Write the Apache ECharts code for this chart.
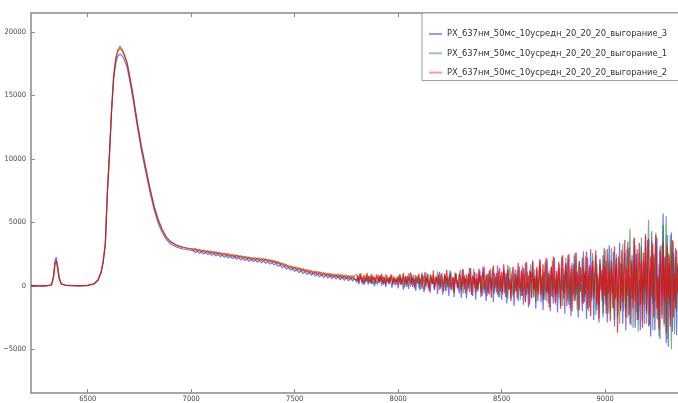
<!DOCTYPE html>
<html><head><meta charset="utf-8">
<script src="https://cdn.jsdelivr.net/npm/echarts@6/dist/echarts.min.js"></script>
<style>html,body{margin:0;padding:0;background:#fff}#c{width:678px;height:403px}</style>
</head><body><div id="c"></div>
<script>
// ---- data ----
const seriesNames = [
  'PX_637нм_50мс_10усредн_20_20_20_выгорание_3',
  'PX_637нм_50мс_10усредн_20_20_20_выгорание_1',
  'PX_637нм_50мс_10усредн_20_20_20_выгорание_2'
];
const xTicks = [6500, 7000, 7500, 8000, 8500, 9000];
const yTicks = [-5000, 0, 5000, 10000, 15000, 20000];

// sampling positions: irregular through the peaks, then 10-unit and 5-unit grids
const xA = [6226,6250,6280,6310,6325,6335,6342,6348,6354,6362,6372,6390,6420,6460,6500,6530,6550,6565,6575,6585,6595,6605,6615,6625,6635,6645,6655,6665,6675,6690,6705,6720,6740,6760,6780,6800,6820,6840,6860,6880,6900,6930,6960,7000];
const gridB = {from: 7010, to: 7790, step: 10};
const gridC = {from: 7800, to: 9350, step: 5};

// series _3 (blue)
const blueA = [10,0,-30,20,70,800,2050,2250,1700,700,170,40,10,0,20,140,440,1050,1900,3250,7300,10250,13600,16200,17500,18100,18250,18150,17900,17250,16000,14600,12500,10600,9000,7450,6050,4950,4200,3650,3300,3050,2900,2780];
const blueB = [2760,2610,2730,2550,2680,2500,2620,2450,2570,2410,
2520,2350,2480,2290,2420,2240,2370,2180,2310,2140,
2270,2080,2220,2030,2160,1980,2110,1930,2060,1900,
2040,1850,2000,1800,1970,1770,1910,1700,1830,1650,
1750,1530,1640,1420,1530,1320,1430,1230,1340,1140,
1270,1040,1190,960,1120,890,1050,830,990,770,
950,700,900,650,850,600,810,560,770,520,
740,460,700,420,660,390,630,360,600];
const blueC = [250,600,120,500,700,180,430,60,560,300,650,90,480,250,720,150,380,-50,520,280,
100,580,320,800,0,450,200,620,-100,400,560,120,700,260,-150,480,650,30,350,520,
-200,420,680,100,500,-300,300,800,60,450,-250,620,200,900,-100,350,550,-400,480,150,
700,-350,300,950,80,-500,520,250,1000,-200,400,-550,680,150,850,-300,200,580,-650,400,
1100,-100,500,-700,300,900,-400,650,100,-800,1200,250,-300,700,-900,450,1000,-150,300,-600,
800,-950,400,1300,-250,600,-1000,200,900,-500,1400,0,-800,700,300,-1100,1000,-300,500,1200,
-900,400,1500,-600,200,-1200,900,350,-700,1300,-200,600,-1300,1000,150,-500,1600,-900,300,800,
-1100,500,1200,-600,1000,-1400,1630,-300,600,-1000,900,200,-1600,1300,-400,700,-1200,1500,100,-800,
1000,-1500,600,1800,-700,300,-1700,1200,400,-1000,1900,-300,800,-1800,1300,-500,500,2000,-1300,700,
-1900,1100,200,-1200,2100,-600,900,-2000,1500,300,-1400,2200,-800,600,-2100,1400,200,-1600,2300,-400,
900,-2200,1600,-300,2400,-1500,500,-2400,1800,200,-1200,2600,-700,1100,-2500,2000,-400,800,-2000,2700,
-1300,1200,-2600,2200,400,-1700,2900,-900,1500,-2700,800,2400,-1900,600,-2900,2100,-300,1300,-2200,3000,
-1500,2000,-2900,800,3200,-2000,1400,-600,2700,-3200,1000,2200,-2500,400,3400,-1800,1700,-3000,900,2600,
-3500,1500,3500,-2300,700,-3100,2400,-1000,3700,-3300,1200,2900,-2700,500,-3500,3100,-1400,2000,-3000,4100,
-2200,3600,-3200,1300,-4000,4300,-1500,2500,-3500,800,3800,-2700,1700,-4200,3200,-800,5700,-3000,2300,-4500,
4000,-4800,1800,-2600,4200,-3600,2600,-1200,3000,-3900,1500];

// series _1 (green)
const greenA = [20,-10,30,10,60,650,1650,1900,1400,550,140,50,30,-20,40,160,470,1100,1950,3300,7400,10400,13800,16500,17900,18600,18900,18700,18350,17650,16350,14950,12850,10950,9350,7750,6350,5250,4450,3850,3500,3200,3050,2920];
const greenB = [2950,2770,2890,2720,2830,2660,2790,2600,2740,2560,
2710,2500,2660,2450,2590,2400,2550,2340,2480,2290,
2450,2230,2400,2190,2330,2140,2290,2090,2240,2050,
2230,2010,2190,1960,2170,1950,2100,1880,2040,1820,
1960,1730,1830,1600,1740,1500,1620,1380,1530,1300,
1480,1230,1390,1140,1310,1080,1250,980,1180,940,
1160,880,1090,830,1040,770,1000,720,950,690,
960,620,920,570,880,540,850,500,800];
const greenC = [900,380,720,450,1000,300,650,520,180,840,410,760,250,600,950,330,700,470,120,680,
520,880,210,610,400,790,60,560,930,300,480,150,700,380,860,90,540,640,220,760,
350,950,40,600,280,820,-150,500,720,180,1000,330,-80,640,420,880,10,550,230,770,
-200,610,360,1050,120,480,-300,700,260,900,-60,520,820,150,400,-350,750,300,1150,40,
560,-250,850,330,60,980,-400,480,700,190,-150,1100,350,620,-500,420,900,80,-280,760,
1250,-100,400,-600,850,230,520,-350,1000,120,680,-700,300,1350,-200,560,40,-480,900,330,
-550,750,1100,-300,420,60,-800,980,250,620,-400,1400,150,-650,700,380,-150,1150,-900,500,
240,-700,1300,420,-350,880,-1000,560,1500,-200,100,-850,1000,300,-500,1250,-150,680,-1100,420,
1600,-400,850,-1200,300,1100,-600,200,1700,-950,550,-300,1300,-1300,700,100,-700,1500,-400,900,
-1100,600,1900,-500,300,-1400,1200,250,-800,2000,-300,700,-1500,1000,400,-1000,1700,-200,500,-1600,
1300,-600,2200,100,-1200,900,-1800,1600,300,-700,2400,-1000,600,-1900,1100,1900,-500,200,-1400,1500,
-900,2300,-200,800,-2000,1400,400,-1200,2600,-600,1000,-2300,1700,200,-1500,2100,-400,1200,-2500,900,
2800,-1000,500,-2200,1900,-500,3000,-1700,700,-2700,1500,2500,-1300,300,-3000,1800,-800,3300,-2000,600,
-1800,2900,-2500,1200,4500,-1000,2000,-3300,800,3200,-2100,1500,-3600,2600,-600,3800,-2800,1000,-1500,3000,
-3000,1800,5200,-2200,400,3500,-3500,2300,-1200,4200,-2600,900,-4000,3100,600,-2300,4800,-3200,1400,5500,
-4200,2600,-1500,4000,-5000,1200,3500,-3800,2200,-2000,1800];

// series _2 (red)
const redA = [0,20,-20,30,50,700,1800,2030,1500,600,150,60,20,10,30,150,460,1080,1930,3280,7350,10350,13750,16450,17800,18450,18700,18550,18250,17550,16300,14900,12800,10900,9300,7700,6300,5200,4400,3820,3460,3180,3020,2900];
const redB = [2780,2940,2740,2870,2680,2820,2620,2760,2580,2710,
2530,2680,2480,2620,2420,2570,2370,2520,2320,2460,
2270,2430,2220,2380,2160,2320,2120,2270,2070,2220,
2030,2200,2000,2160,1960,2130,1910,2060,1840,1990,
1760,1900,1660,1790,1540,1680,1430,1570,1340,1490,
1260,1430,1170,1350,1090,1270,1020,1200,960,1140,
900,1100,840,1040,790,980,740,940,700,900,
640,880,600,840,560,800,530,780,500];
const redC = [450,820,300,960,560,720,200,880,400,650,1000,330,780,500,150,850,420,700,280,900,
640,250,800,410,950,180,700,530,100,820,360,660,220,900,480,140,750,330,600,60,
700,260,880,120,540,1000,200,620,-100,760,380,500,1050,90,680,300,-200,840,420,620,
950,150,500,-250,800,380,1100,-50,620,280,-400,900,450,160,1200,-150,520,700,100,880,
-300,640,1000,180,-450,800,400,1250,-100,560,900,-350,300,650,-550,1050,200,460,-200,950,
550,-400,1300,100,700,-600,900,300,-200,1400,450,-700,800,150,1100,-500,600,-250,1350,200,
800,-800,400,1500,-300,900,100,-600,1200,450,-950,700,1600,-200,300,1000,-700,550,1400,-450,
1100,-500,1700,300,-900,800,1300,-300,400,-1200,1000,1500,-600,200,900,-1000,1800,100,-400,1200,
-800,1400,500,-1300,1900,-200,800,-1500,1100,300,2000,-900,600,-400,1500,-1200,900,2100,-700,300,
1700,-1100,700,2200,-500,1000,-1700,400,1500,-900,2300,100,-1300,1200,-600,1900,600,-1800,1000,2400,
-1000,500,1800,-1600,900,2500,-600,1300,-2000,600,1700,-1200,2600,-300,900,-1900,1500,300,2200,-1400,
1000,-700,2700,-1800,500,1600,-2400,1200,2000,-1000,400,2800,-1500,900,-2600,1700,600,-1200,2400,-800,
1500,-2200,2900,-600,1200,-2800,2000,300,-1800,3100,-1000,1600,-3700,2300,700,-2000,2800,-1300,800,3600,
-2500,1400,-800,3000,-3000,2000,500,-1800,3800,-1200,2500,-2700,900,3400,-1500,1800,-3300,2600,-300,3900,
-2000,1200,3700,-3100,2300,-900,3300,-2500,1600,4000,-1800,700,-3400,2800,1100,-2600,3500,-1300,2200,-3700,
3200,-1000,2400,-3200,1500,3600,-2500,1000,-1800,2800,-600];

// ---- build ----
function gridPositions(g) { const out = []; for (let x = g.from; x <= g.to; x += g.step) out.push(x); return out; }
const xs = xA.concat(gridPositions(gridB), gridPositions(gridC));
const ysets = [blueA.concat(blueB, blueC), greenA.concat(greenB, greenC), redA.concat(redB, redC)];
const lineColors = ['rgba(0,0,255,0.55)', 'rgba(0,128,0,0.55)', 'rgba(255,0,0,0.75)'];
const legendColors = ['rgba(0,0,255,0.4)', 'rgba(0,128,0,0.4)', 'rgba(255,0,0,0.4)'];

const axisGrey = '#8a8a8a';
const labelColor = '#444';
const tickFont = "'DejaVu Sans Condensed', sans-serif";

const chart = echarts.init(document.getElementById('c'), null, {renderer: 'canvas'});
chart.setOption({
  animation: false,
  backgroundColor: '#fff',
  grid: {left: 31, right: 0, top: 13, bottom: 10, containLabel: false},
  legend: {
    orient: 'vertical', left: 422, top: 13,
    padding: [15, 300, 2, 7],
    borderColor: '#999', borderWidth: 1, backgroundColor: '#fff',
    icon: 'rect', itemWidth: 13, itemHeight: 2, itemGap: 7.3, itemTextGap: 14,
    textStyle: {fontSize: 9.3, lineHeight: 12, color: '#333', fontFamily: "'DejaVu Sans Condensed', sans-serif"},
    data: seriesNames.map((n, i) => ({name: n, itemStyle: {color: legendColors[i]}}))
  },
  xAxis: [{
    type: 'value', min: 6226, max: 9352, position: 'bottom',
    axisLine: {show: true, onZero: false, lineStyle: {color: axisGrey, width: 1.5}},
    axisTick: {show: true, inside: true, length: 4, lineStyle: {color: axisGrey}, customValues: xTicks},
    axisLabel: {show: true, margin: 2, fontSize: 7.5, color: labelColor, fontFamily: tickFont, customValues: xTicks,
      formatter: v => String(v)},
    splitLine: {show: false}
  }, {
    type: 'value', min: 6226, max: 9352, position: 'top',
    axisLine: {show: true, onZero: false, lineStyle: {color: axisGrey, width: 1.5}},
    axisTick: {show: true, inside: true, length: 4, lineStyle: {color: axisGrey}, customValues: xTicks},
    axisLabel: {show: false},
    splitLine: {show: false}
  }],
  yAxis: {
    type: 'value', min: -8450, max: 21500,
    axisLine: {show: true, onZero: false, lineStyle: {color: axisGrey, width: 1.5}},
    axisTick: {show: true, inside: true, length: 4, lineStyle: {color: axisGrey}, customValues: yTicks},
    axisLabel: {show: true, margin: 5, fontSize: 7.5, color: labelColor, fontFamily: tickFont, customValues: yTicks,
      formatter: v => v < 0 ? '\u2212' + (-v) : String(v)},
    splitLine: {show: false}
  },
  series: seriesNames.map((n, i) => ({
    name: n, type: 'line', xAxisIndex: 0, showSymbol: false, symbol: 'none',
    lineStyle: {width: 1.2, color: lineColors[i]}, itemStyle: {color: lineColors[i]},
    emphasis: {disabled: true}, clip: true,
    data: xs.map((x, k) => [x, ysets[i][k]])
  }))
});
</script></body></html>
